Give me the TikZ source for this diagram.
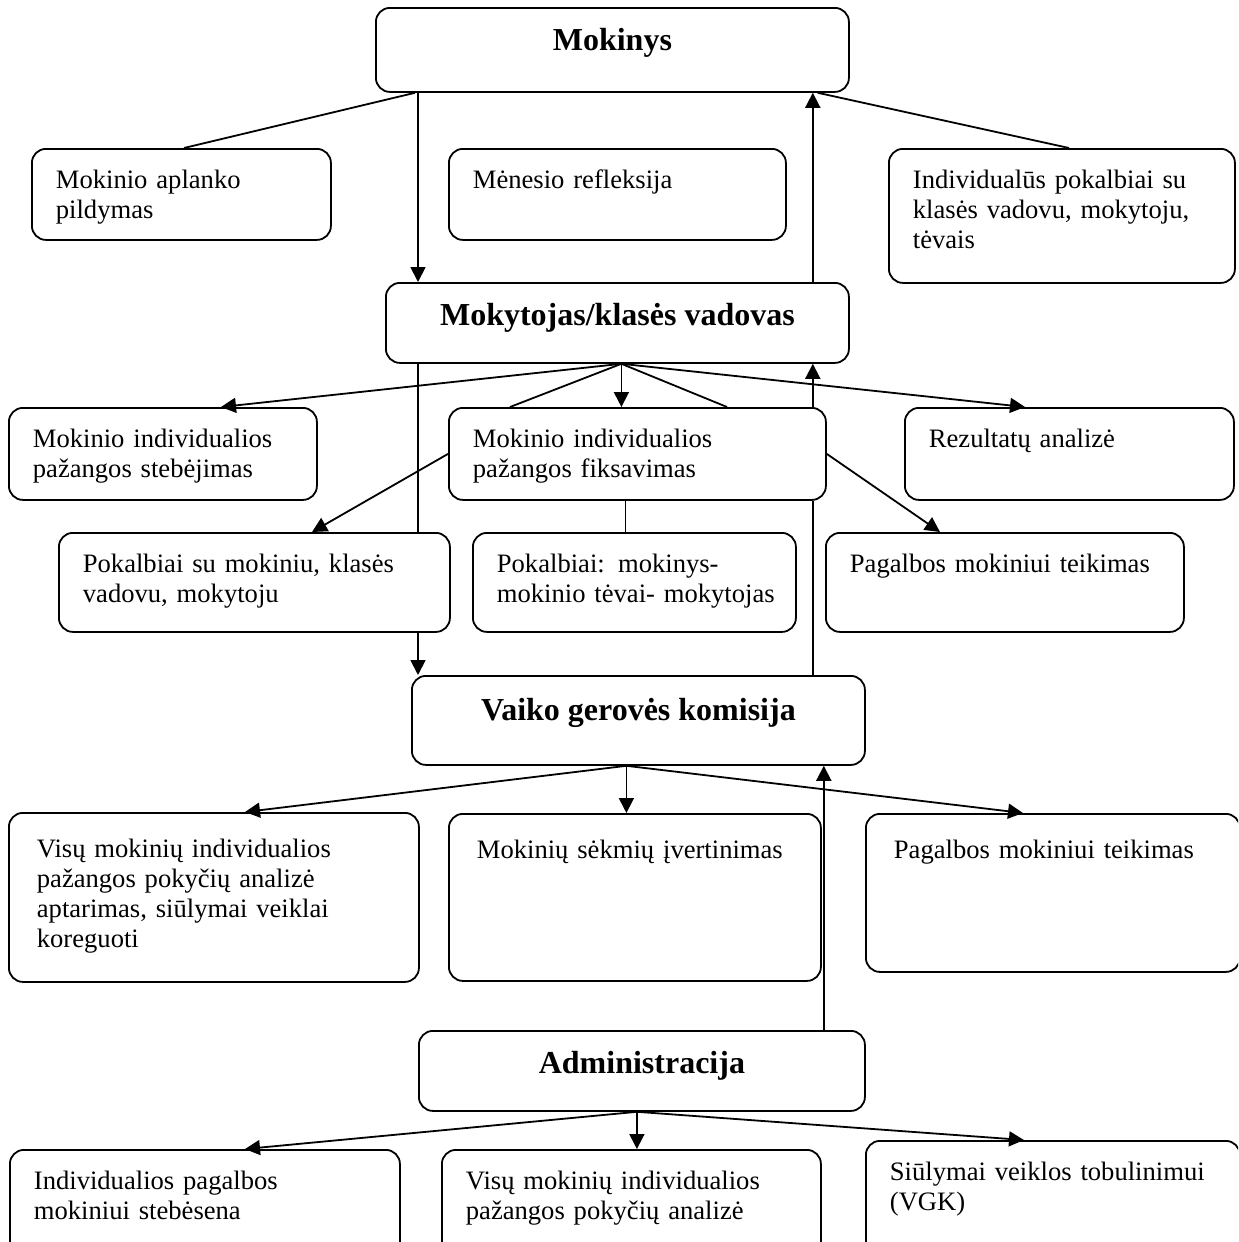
\documentclass[tikz,border=0pt]{standalone}
\usepackage{fontspec}
\setmainfont{Liberation Serif}
\usetikzlibrary{arrows.meta}

\begin{document}
\begin{tikzpicture}[x=0.5pt, y=-0.5pt, line width=0.9pt,
  tbox/.style 2 args={draw, fill=white, rounded corners=7pt, anchor=north west, align=left,
    inner xsep=12pt, inner ysep=0pt, text width=#1, text height=20pt, text depth=#2,
    font=\fontsize{13.3pt}{15pt}\selectfont},
  lowbox/.style={inner xsep=14pt, text height=22.5pt},
  head/.style 2 args={draw, fill=white, rounded corners=7pt, anchor=north west, inner sep=0pt,
    minimum width=#1, text height=21.5pt, text depth=#2,
    font=\fontsize{16pt}{19pt}\selectfont\bfseries},
  arr/.style={-{Triangle[length=7.5pt,width=7.5pt]}}]
\useasboundingbox (0,0) rectangle (1238,1242);
\clip (0,0) rectangle (1238,1242);

\node[head={236.5pt}{20.5pt}] (mokinys) at (375,7) {Mokinys};
\node[tbox={125.5pt}{25.5pt}] (aplanko) at (31,148) {Mokinio aplanko\\pildymas};
\node[tbox={144.5pt}{25.5pt}] (refleksija) at (448,148) {Mėnesio refleksija};
\node[tbox={149pt}{47pt}] (pokalbiai) at (888,148) {Individualūs pokalbiai su\\klasės vadovu, mokytoju,\\tėvais};
\node[head={231.5pt}{18.5pt}] (mokytojas) at (385,282) {Mokytojas/klasės vadovas};
\node[tbox={130pt}{26pt}] (stebejimas) at (8,407) {Mokinio individualios\\pažangos stebėjimas};
\node[tbox={164.5pt}{26pt}] (fiksavimas) at (448,407) {Mokinio individualios\\pažangos fiksavimas};
\node[tbox={140.5pt}{26pt}] (rezultatai) at (904,407) {Rezultatų analizė};
\node[tbox={171.5pt}{29.5pt}] (sumokiniu) at (58,532) {Pokalbiai su mokiniu, klasės\\vadovu, mokytoju};
\node[tbox={137.5pt}{29.5pt}] (sutevais) at (472,532) {Pokalbiai: mokinys-\\\mbox{mokinio tėvai- mokytojas}};
\node[tbox={155pt}{29.5pt}] (pagalba) at (825,532) {Pagalbos mokiniui teikimas};
\node[head={226.5pt}{22pt}, text height=22.5pt] (vgk) at (411,675) {Vaiko gerovės komisija};
\node[tbox={177pt}{62pt}, lowbox] (analize) at (8,812) {Visų mokinių individualios\\pažangos pokyčių analizė\\aptarimas, siūlymai veiklai\\koreguoti};
\node[tbox={158pt}{61pt}, lowbox] (sekmes) at (448,813) {Mokinių sėkmių įvertinimas};
\node[tbox={159pt}{56.5pt}, lowbox] (vgkpagalba) at (865,813) {Pagalbos mokiniui teikimas};
\node[head={223pt}{18.5pt}] (admin) at (418,1030) {Administracija};
\node[tbox={171pt}{40.5pt}] (stebesena) at (9,1149) {Individualios pagalbos\\mokiniui stebėsena};
\node[tbox={165.5pt}{40.5pt}] (pokyciai) at (441,1149) {Visų mokinių individualios\\pažangos pokyčių analizė};
\node[tbox={163pt}{45pt}] (siulymai) at (865,1140) {Siūlymai veiklos tobulinimui\\(VGK)};

\draw ([xshift=20pt]mokinys.south west) -- ([xshift=76.5pt]aplanko.north west);
\draw[arr] ([xshift=21.5pt]mokinys.south west) -- ([xshift=16.5pt]mokytojas.north west);
\draw ([xshift=-16pt]mokinys.south east) -- ([xshift=90.5pt]pokalbiai.north west);
\draw[arr] ([xshift=-18.5pt]mokytojas.north east) -- ([xshift=-18.5pt]mokinys.south east);

\coordinate (mk) at ([xshift=2pt]mokytojas.south);
\draw[arr] (mk) -- ([xshift=106.5pt]stebejimas.north west);
\draw (mk) -- ([xshift=31pt]fiksavimas.north west);
\draw[arr] (mk) -- (mk |- fiksavimas.north);
\draw (mk) -- ([xshift=139.5pt]fiksavimas.north west);
\draw[arr] (mk) -- ([xshift=60.5pt]rezultatai.north west);

\draw ([xshift=16.5pt]mokytojas.south west) coordinate (l1) -- (l1 |- sumokiniu.north);
\draw[arr] (l1 |- sumokiniu.south) -- (l1 |- vgk.north);
\draw[arr] (fiksavimas.west) -- ([xshift=127pt]sumokiniu.north west);
\draw ([xshift=-6pt]fiksavimas.south) coordinate (l2) -- (l2 |- sutevais.north);
\draw[arr] (fiksavimas.east) -- ([xshift=57.5pt]pagalba.north west);
\draw ([xshift=-26.5pt]vgk.north east) coordinate (l3) -- (l3 |- fiksavimas.south);
\draw[arr] (l3 |- fiksavimas.north) -- (l3 |- mokytojas.south);

\coordinate (vk) at ([xshift=-6pt]vgk.south);
\draw[arr] (vk) -- ([xshift=118.5pt]analize.north west);
\draw[arr] (vk) -- (vk |- sekmes.north);
\draw[arr] (vk) -- ([xshift=79pt]vgkpagalba.north west);
\draw[arr] ([xshift=-21pt]admin.north east) coordinate (l4) -- (l4 |- vgk.south);

\coordinate (ad) at ([xshift=-2.5pt]admin.south);
\draw[arr] (ad) -- ([xshift=118pt]stebesena.north west);
\draw[arr] (ad) -- (ad |- pokyciai.north);
\draw[arr] (ad) -- ([xshift=79.5pt]siulymai.north west);
\end{tikzpicture}
\end{document}
